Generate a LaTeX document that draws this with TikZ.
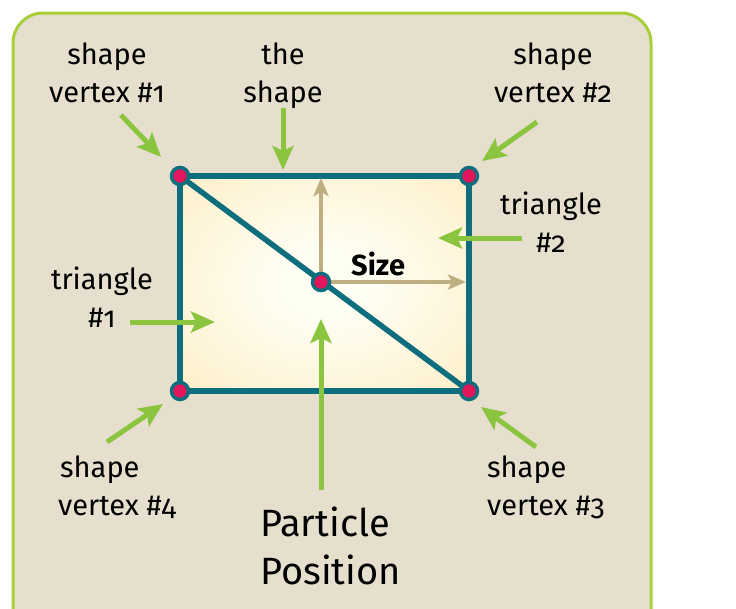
\documentclass[tikz,border=0pt]{standalone}
\usepackage{fontspec}
\setmainfont{Fira Sans}[RawFeature=+onum]
\usetikzlibrary{arrows.meta}
\definecolor{panelfill}{HTML}{E6DFCE}
\definecolor{panelborder}{HTML}{A8CF38}
\definecolor{tealline}{HTML}{0F6E7D}
\definecolor{crimson}{HTML}{E2165B}
\definecolor{leafgreen}{HTML}{8BC53F}
\definecolor{tanline}{HTML}{BFAE82}
\definecolor{glowin}{HTML}{FFFEF3}
\definecolor{glowmid}{HTML}{FEF2D2}
\definecolor{glowout}{HTML}{FBE3AE}
\pgfdeclareradialshading{rectglow}{\pgfpointorigin}{color(0bp)=(glowin); color(8bp)=(glowin); color(30bp)=(glowmid); color(50bp)=(glowout); color(100bp)=(glowout)}
\tikzset{
  panel/.style={fill=panelfill, draw=panelborder, line width=3pt, rounded corners=30pt},
  tealstroke/.style={draw=tealline, line width=5.5pt, line join=miter},
  tanarrow/.style={draw=tanline, line width=4pt, -{Stealth[length=18pt,width=15pt,inset=4pt]}},
  greenarrow/.style={draw=leafgreen, line width=5pt, -{Stealth[length=24pt,width=21pt,inset=5pt]}},
  vdot/.style={circle, fill=crimson, draw=tealline, line width=3.5pt, minimum size=17pt, inner sep=0pt},
  lbl/.style={font=\fontsize{29}{38}\selectfont, inner sep=0pt, text=black},
  biglbl/.style={font=\fontsize{38}{48}\selectfont, inner sep=0pt, text=black},
}
\begin{document}
\begin{tikzpicture}[x=1pt,y=-1pt]
\useasboundingbox (0,0) rectangle (736,608);
\clip (0,0) rectangle (736,608);
\draw[panel] (13,13) rectangle (651,680);
% shape
\coordinate (v1) at (180,176);
\coordinate (v2) at (469,176);
\coordinate (v3) at (469,391);
\coordinate (v4) at (180,391);
\coordinate (ctr) at (321,282);
\shade[shading=rectglow] (v1) rectangle (v3);
\draw[tealstroke] (v1) rectangle (v3);
\draw[tealstroke] (v1) -- (v3);
\coordinate (uptip) at (321,178);
\coordinate (righttip) at (466,282);
\draw[tanarrow] (ctr) -- (uptip);
\draw[tanarrow] (ctr) -- (righttip);
\node[vdot] (d1) at (v1) {};
\node[vdot] (d2) at (v2) {};
\node[vdot] (d3) at (v3) {};
\node[vdot] (d4) at (v4) {};
\node[vdot] (dc) at (ctr) {};
\node[lbl, font=\fontsize{29}{38}\selectfont\bfseries, anchor=base west] (size) at (351,275) {Size};
% labels (anchor base = baseline of last line)
\node[lbl, align=center, anchor=base] (lv1) at (107,102) {shape\\vertex \#1};
\node[lbl, align=center, anchor=base] (lsh) at (283,102) {the\\shape};
\node[lbl, align=center, anchor=base] (lv2) at (553,102) {shape\\vertex \#2};
\node[lbl, align=center, anchor=base] (lt2) at (551,252) {triangle\\\#2};
\node[lbl, align=center, anchor=base] (lt1) at (102,327) {triangle\\\#1};
\node[lbl, align=left, anchor=base west] (lv4) at (58,515) {\hspace*{2pt}shape\\vertex \#4};
\node[lbl, align=left, anchor=base west] (lv3) at (487,515) {shape\\vertex \#3};
\node[biglbl, align=left, anchor=base west] (lpp) at (260,584) {Particle\\Position};
% green arrows
\coordinate (a1s) at (121,115); \coordinate (a1e) at (161,157);
\coordinate (a2s) at (283,108); \coordinate (a2e) at (283,170);
\coordinate (a3s) at (537,122); \coordinate (a3e) at (482,161);
\coordinate (a4s) at (522,238); \coordinate (a4e) at (438,238);
\coordinate (a5s) at (130,322); \coordinate (a5e) at (215,322);
\coordinate (a6s) at (107,442); \coordinate (a6e) at (163,404);
\coordinate (a7s) at (536,447); \coordinate (a7e) at (481,407);
\coordinate (a8s) at (321,490); \coordinate (a8e) at (321,319);
\draw[greenarrow] (a1s) -- (a1e);
\draw[greenarrow] (a2s) -- (a2e);
\draw[greenarrow] (a3s) -- (a3e);
\draw[greenarrow] (a4s) -- (a4e);
\draw[greenarrow] (a5s) -- (a5e);
\draw[greenarrow] (a6s) -- (a6e);
\draw[greenarrow] (a7s) -- (a7e);
\draw[greenarrow] (a8s) -- (a8e);
\end{tikzpicture}
\end{document}
